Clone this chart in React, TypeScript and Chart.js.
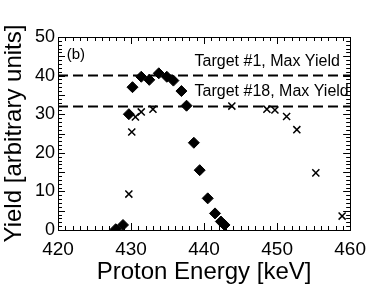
import React, { useEffect, useRef } from "react";
import { Chart, registerables } from "chart.js";

Chart.register(...registerables);

const target1Energy = [427.9, 428.9, 429.7, 430.2, 431.4, 432.5, 433.8, 434.9, 435.8, 436.9, 437.6, 438.6, 439.4, 440.5, 441.5, 442.3, 442.8];
const target1Yield = [0.2, 1.3, 30.0, 37.0, 39.7, 38.9, 40.6, 39.7, 38.7, 36.0, 32.2, 22.6, 15.5, 8.2, 4.3, 2.2, 1.3];

const target18Energy = [429.7, 430.1, 430.6, 431.4, 433.0, 443.8, 448.6, 449.7, 451.3, 452.7, 455.3, 458.9];
const target18Yield = [9.3, 25.4, 29.3, 30.6, 31.3, 32.1, 31.3, 31.1, 29.4, 26.0, 14.8, 3.6];

const maxYieldLevels = [40, 32];
const maxYieldLabels = ["Target #1, Max Yield", "Target #18, Max Yield"];
const xTicks = [420, 430, 440, 450, 460];
const yTicks = [0, 5, 10, 15, 20, 25, 30, 35, 40, 45, 50];
const panelLabel = "(b)";

const FONT = "'Liberation Sans', Arial, sans-serif";

const framePlugin = {
  id: "frameTicks",
  afterDatasetsDraw(chart: any) {
    const { ctx, chartArea: a, scales } = chart;
    const xs = scales.x, ys = scales.y;
    ctx.save();
    ctx.strokeStyle = "#000";
    ctx.lineWidth = 1;
    ctx.beginPath();
    for (let v = 420; v <= 460; v += 1) {
      const px = Math.round(xs.getPixelForValue(v)) + 0.5;
      const len = v % 10 === 0 ? 7 : 4;
      ctx.moveTo(px, a.bottom); ctx.lineTo(px, a.bottom - len);
      ctx.moveTo(px, a.top); ctx.lineTo(px, a.top + len);
    }
    for (let v = 0; v <= 50; v += 1) {
      const py = Math.round(ys.getPixelForValue(v)) + 0.5;
      const len = v % 5 === 0 ? 7 : 4;
      ctx.moveTo(a.left, py); ctx.lineTo(a.left + len, py);
      ctx.moveTo(a.right, py); ctx.lineTo(a.right - len, py);
    }
    ctx.stroke();
    ctx.strokeRect(Math.round(a.left) + 0.5, Math.round(a.top) + 0.5, Math.round(a.right - a.left), Math.round(a.bottom - a.top));
    ctx.fillStyle = "#000";
    ctx.textBaseline = "alphabetic";
    ctx.textAlign = "left";
    ctx.font = `15px ${FONT}`;
    ctx.fillText(panelLabel, xs.getPixelForValue(421.2), ys.getPixelForValue(44.3));
    ctx.font = `16px ${FONT}`;
    ctx.fillText(maxYieldLabels[0], xs.getPixelForValue(438.7), ys.getPixelForValue(42.5));
    ctx.fillText(maxYieldLabels[1], xs.getPixelForValue(438.7), ys.getPixelForValue(34.6));
    ctx.restore();
  },
};

export default function App() {
  const ref = useRef<HTMLCanvasElement>(null);
  useEffect(() => {
    const canvas = ref.current!;
    const chart = new Chart(canvas, {
      type: "scatter",
      data: {
        datasets: [
          ...maxYieldLevels.map((lv) => ({
            type: "line" as const,
            data: [{ x: 420, y: lv }, { x: 460, y: lv }],
            borderColor: "#000",
            borderWidth: 2,
            borderDash: [10, 5],
            pointRadius: 0,
            fill: false,
          })),
          {
            data: target1Energy.map((x, i) => ({ x, y: target1Yield[i] })),
            pointStyle: "rectRot",
            pointRadius: 5.5,
            backgroundColor: "#000",
            borderColor: "#000",
            borderWidth: 1,
          },
          {
            data: target18Energy.map((x, i) => ({ x, y: target18Yield[i] })),
            pointStyle: "crossRot",
            pointRadius: 5,
            borderColor: "#000",
            borderWidth: 1.5,
          },
        ],
      },
      options: {
        animation: false,
        responsive: false,
        events: [],
        layout: { padding: { left: 0, top: 37, right: 14, bottom: 0 } },
        plugins: { legend: { display: false }, tooltip: { enabled: false } },
        scales: {
          x: {
            type: "linear",
            min: 420,
            max: 460,
            afterBuildTicks: (s: any) => { s.ticks = xTicks.map((v) => ({ value: v })); },
            afterFit: (s: any) => { s.height = 59; },
            grid: { display: false, drawTicks: false },
            border: { display: false },
            ticks: { color: "#000", font: { family: FONT, size: 19 }, padding: 8, maxRotation: 0 },
            title: { display: true, text: "Proton Energy [keV]", color: "#000", font: { family: FONT, size: 24 }, padding: { top: 0, bottom: 2 } },
          },
          y: {
            type: "linear",
            min: 0,
            max: 50,
            afterBuildTicks: (s: any) => { s.ticks = yTicks.map((v) => ({ value: v })); },
            afterFit: (s: any) => { s.width = 58; },
            grid: { display: false, drawTicks: false },
            border: { display: false },
            ticks: { color: "#000", font: { family: FONT, size: 18 }, padding: 3 },
            title: { display: true, text: "Yield [arbitrary units]", color: "#000", font: { family: FONT, size: 24 }, padding: { top: 0, bottom: 0 } },
          },
        },
      },
      plugins: [framePlugin],
    });
    return () => chart.destroy();
  }, []);
  return (
    <div style={{ position: "fixed", left: 0, top: 0, width: 374, height: 289, background: "#fff" }}>
      <canvas ref={ref} width={374} height={289} style={{ width: 374, height: 289, display: "block" }} />
    </div>
  );
}
